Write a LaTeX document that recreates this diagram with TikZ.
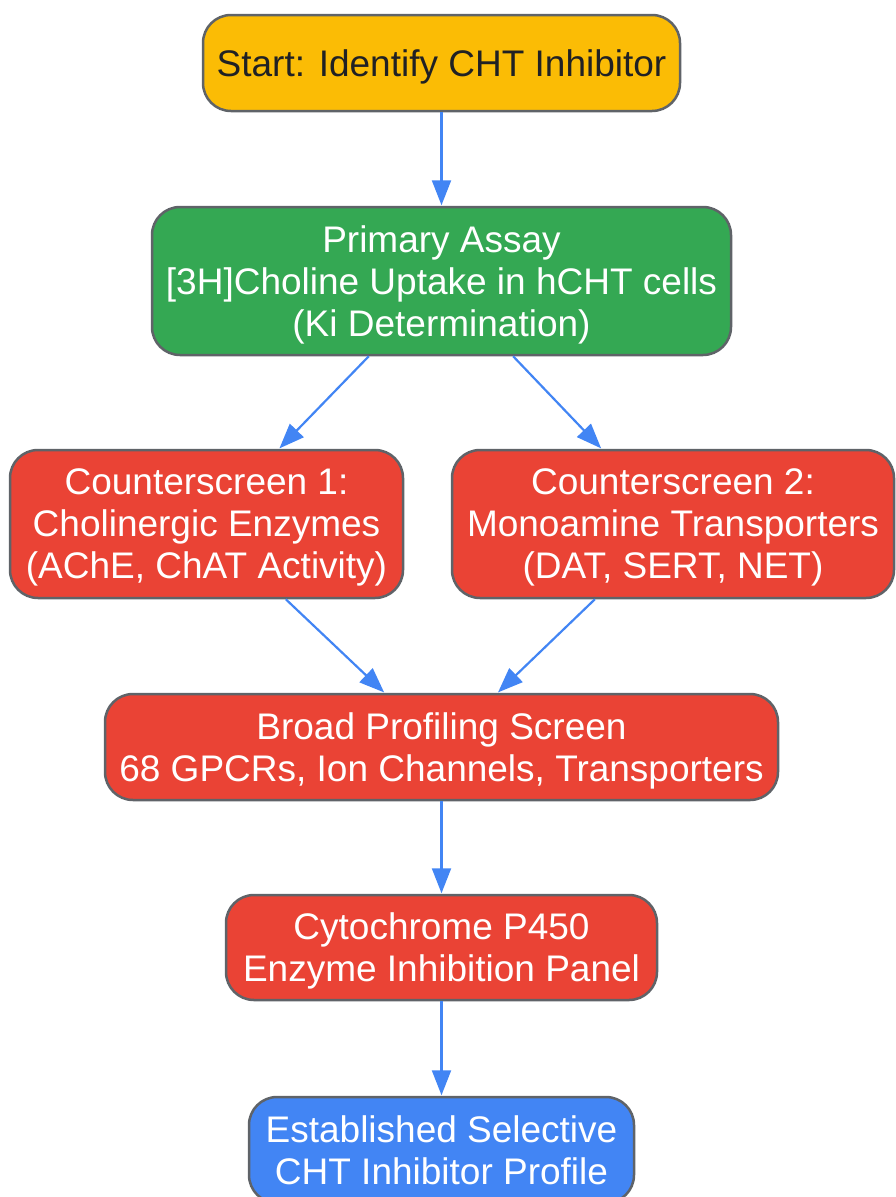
\documentclass[tikz,border=0pt]{standalone}
\usepackage{fontspec}
\setmainfont{Liberation Sans}
\usetikzlibrary{arrows.meta}

\definecolor{gyellow}{HTML}{FBBC05}
\definecolor{ggreen}{HTML}{34A853}
\definecolor{gred}{HTML}{EA4335}
\definecolor{gblue}{HTML}{4285F4}
\definecolor{gborder}{HTML}{5F6368}
\definecolor{gtext}{HTML}{202124}

\tikzset{
  stepbox/.style={draw=gborder, line width=2.5pt, rounded corners=28pt, inner sep=0pt,
    align=center, text=white, text depth=-8pt, font=\fontsize{37}{42}\selectfont},
  flow/.style={draw=gblue, line width=2.2pt, -{Triangle[length=25pt,width=19pt]}, shorten >=0.5pt}
}

\begin{document}
\begin{tikzpicture}[x=1pt,y=1pt,yscale=-1,xscale=1]
\useasboundingbox (0,0) rectangle (895,1197);

% Boxes
\node [stepbox, fill=gyellow, text=gtext, minimum width=477pt, minimum height=96pt] (start) at (441.5,63) {Start: Identify CHT Inhibitor};
\node [stepbox, fill=ggreen, minimum width=579pt, minimum height=148pt] (primary) at (441.5,281) {Primary Assay\\ {[3H]}Choline Uptake in hCHT cells\\ (Ki Determination)};
\node [stepbox, fill=gred, minimum width=393pt, minimum height=148pt] (cs1) at (206.5,524) {Counterscreen 1:\\ Cholinergic Enzymes\\ (AChE, ChAT Activity)};
\node [stepbox, fill=gred, minimum width=442pt, minimum height=148pt] (cs2) at (673,524) {Counterscreen 2:\\ Monoamine Transporters\\ (DAT, SERT, NET)};
\node [stepbox, fill=gred, minimum width=673pt, minimum height=106pt] (broad) at (441.5,747) {Broad Profiling Screen\\ 68 GPCRs, Ion Channels, Transporters};
\node [stepbox, fill=gred, minimum width=431pt, minimum height=105pt] (cyp) at (441.5,947.5) {Cytochrome P450\\ Enzyme Inhibition Panel};
\node [stepbox, fill=gblue, minimum width=385pt, minimum height=106pt] (profile) at (441.5,1150) {Established Selective\\ CHT Inhibitor Profile};

% Connectors
\draw [flow] (start) -- (primary);
\draw [flow] (primary) -- (cs1);
\draw [flow] (primary) -- (cs2);
\draw [flow] (cs1) -- (broad);
\draw [flow] (cs2) -- (broad);
\draw [flow] (broad) -- (cyp);
\draw [flow] (cyp) -- (profile);

\end{tikzpicture}
\end{document}
